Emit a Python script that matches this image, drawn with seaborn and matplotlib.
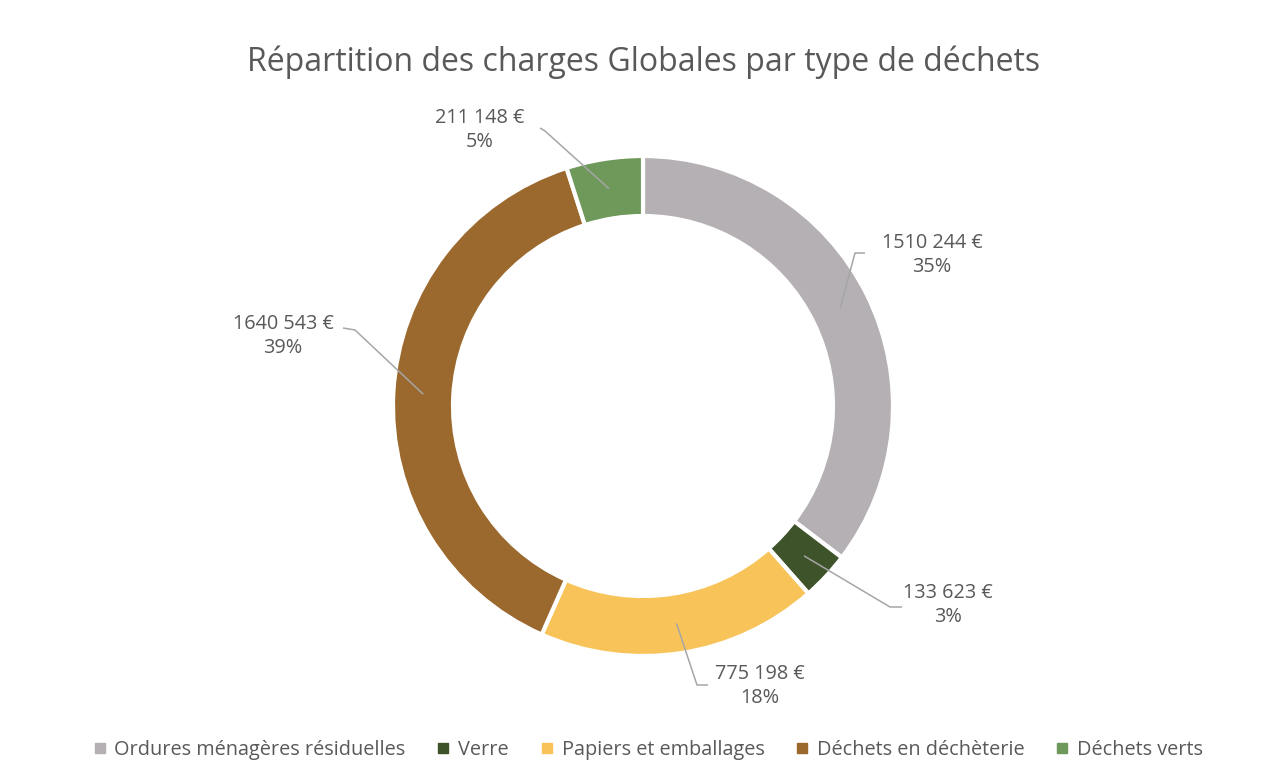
import numpy as np
import matplotlib
matplotlib.use("Agg")
import matplotlib.pyplot as plt
import seaborn as sns
from matplotlib.lines import Line2D

categories = ["Ordures ménagères résiduelles", "Verre", "Papiers et emballages",
              "Déchets en déchèterie", "Déchets verts"]
values = [1510244, 133623, 775198, 1640543, 211148]
value_labels = ["1510 244 €", "133 623 €", "775 198 €", "1640 543 €", "211 148 €"]
pct_labels = ["35%", "3%", "18%", "39%", "5%"]
colors = ["#B5B0B3", "#3F532B", "#F8C45A", "#9B682D", "#6F985B"]
title = "Répartition des charges Globales par type de déchets"

sns.set_theme(style="white")
plt.rcParams['font.family'] = ['Open Sans', 'DejaVu Sans']

W, H = 1261, 784
fig = plt.figure(figsize=(W / 100, H / 100), dpi=100)
ax = fig.add_axes([0, 0, 1, 1])

cx, cy = 643, H - 406
R = 250
width = 60
wedges, _ = ax.pie(values, colors=colors, startangle=90, counterclock=False,
                   radius=R, center=(cx, cy),
                   wedgeprops=dict(width=width, edgecolor="white", linewidth=3))
ax.set_xlim(0, W)
ax.set_ylim(0, H)
ax.set_aspect("equal")
ax.axis("off")

total = sum(values)

# label layout (pixel positions of text block centre, leader elbow, leader start)
label_pos = [(932, 255), (948, 605), (760, 686), (283, 336), (480, 130)]
line_start = [(865, 253), (902, 607), (708, 685), (343, 328), (540, 128)]
line_elbow = [(855, 253), (890, 607), (697, 685), (355, 330), (545, 131)]

rmid = R - width / 2
cum = np.cumsum([0] + values[:-1])
text_col = "#595959"
for i, v in enumerate(values):
    mid = 90 - (cum[i] + v / 2) / total * 360
    ax_ = cx + rmid * np.cos(np.radians(mid))
    ay_ = cy + rmid * np.sin(np.radians(mid))
    sx, sy = line_start[i]
    ex, ey = line_elbow[i]
    ax.plot([sx, ex, ax_], [H - sy, H - ey, ay_], color="#A6A6A6", lw=1.1,
            solid_capstyle="butt", zorder=5)
    tx, ty = label_pos[i]
    ax.text(tx, H - ty, f"{value_labels[i]}\n{pct_labels[i]}", ha="center", va="center",
            fontsize=14.3, color=text_col, linespacing=1.3, zorder=6)

ax.text(644, H - 62, title, ha="center", va="center", fontsize=23, color=text_col)

handles = [Line2D([0], [0], marker="s", linestyle="none", markersize=6.5,
                  markerfacecolor=c, markeredgecolor=c) for c in colors]
fig.legend(handles, categories, loc="center", bbox_to_anchor=(648 / W, 1 - 750 / H),
           ncol=5, frameon=False, fontsize=14.3, handletextpad=0.4, columnspacing=1.55,
           labelcolor=text_col, handlelength=0.7)

fig.savefig("out.png", dpi=100, facecolor="white")
